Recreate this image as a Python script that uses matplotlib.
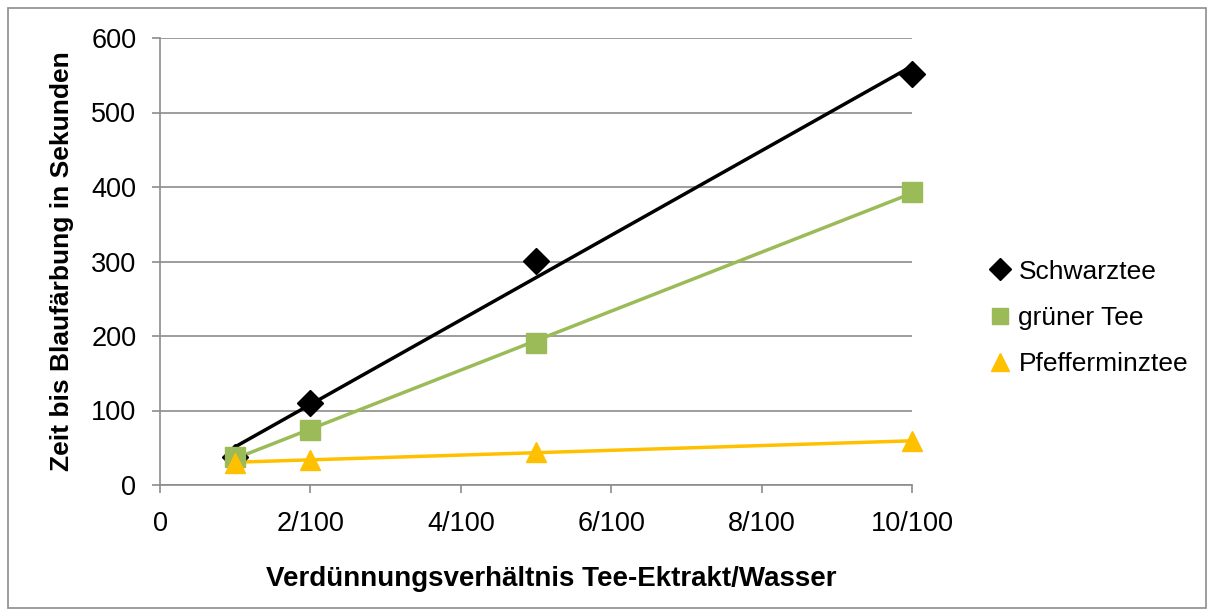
import numpy as np
import matplotlib
matplotlib.use("Agg")
import matplotlib.pyplot as plt
from matplotlib.patches import Rectangle

plt.rcParams['font.family'] = ['Liberation Sans', 'DejaVu Sans']

x_vals = [1, 2, 5, 10]
schwarztee = [37, 110, 301, 552]
gruener_tee = [38, 74, 191, 393]
pfefferminztee = [30, 34, 44, 59]
x_ticks = [0, 2, 4, 6, 8, 10]
x_labels = ['0', '2/100', '4/100', '6/100', '8/100', '10/100']

fig = plt.figure(figsize=(12.14, 6.16), dpi=100)
ax = fig.add_axes([160 / 1214, 1 - 485 / 616, (912 - 160) / 1214, (485 - 38) / 616])

fig.patches.append(Rectangle((8 / 1214, 8 / 616), 1198 / 1214, 600 / 616,
                             transform=fig.transFigure, fill=False,
                             edgecolor='#8c8c8c', linewidth=1.2))

series = [
    ('Schwarztee', schwarztee, 'black', 'D', 13),
    ('grüner Tee', gruener_tee, '#9BBB59', 's', 14),
    ('Pfefferminztee', pfefferminztee, '#FFC000', '^', 15),
]

xs = np.array(x_vals, dtype=float)
for name, ys, col, mk, ms in series:
    k, d = np.polyfit(xs, ys, 1)
    ax.plot([xs[0], xs[-1]], [k * xs[0] + d, k * xs[-1] + d], color=col,
            linewidth=2.5, zorder=3)
    ax.plot(xs, ys, linestyle='none', marker=mk, markersize=ms, color=col,
            label=name, zorder=4, clip_on=False)

ax.set_xlim(0, 10)
ax.set_ylim(0, 600)
ax.set_yticks(range(0, 601, 100))
ax.set_xticks(x_ticks)
ax.set_xticklabels(x_labels)
ax.grid(axis='y', color='#8c8c8c', linewidth=1.2)
ax.set_axisbelow(True)
for s in ['top', 'right']:
    ax.spines[s].set_visible(False)
for s in ['left', 'bottom']:
    ax.spines[s].set_color('#8c8c8c')
    ax.spines[s].set_linewidth(1.2)
ax.tick_params(axis='both', colors='#8c8c8c', labelcolor='black', labelsize=19.5,
               length=6, width=1.2, direction='out')
ax.tick_params(axis='x', pad=13)
ax.tick_params(axis='y', pad=11)

ax.set_xlabel('Verdünnungsverhältnis Tee-Ektrakt/Wasser', fontsize=20,
              fontweight='bold')
ax.xaxis.set_label_coords(0.52, -0.182)
ax.set_ylabel('Zeit bis Blaufärbung in Sekunden', fontsize=19,
              fontweight='bold', labelpad=12)

ax.legend(loc='center left', bbox_to_anchor=(992 / 1214, 1 - 318 / 616),
          bbox_transform=fig.transFigure, frameon=False, fontsize=19,
          handlelength=0.6, handletextpad=0.4, labelspacing=0.85,
          borderaxespad=0, borderpad=0, markerscale=0.85)

fig.savefig('out.png', dpi=100)
